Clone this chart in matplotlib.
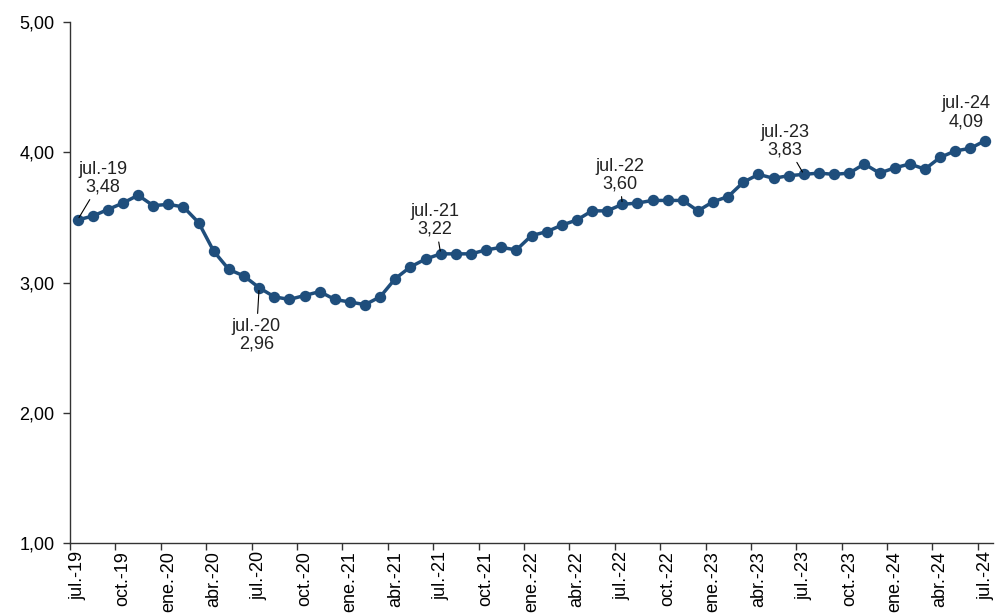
import numpy as np
import matplotlib
matplotlib.use("Agg")
import matplotlib.pyplot as plt

plt.rcParams['font.family'] = ['Liberation Sans', 'DejaVu Sans']

# monthly series, jul-19 .. jul-24
months = ["jul.-19", "ago.-19", "sep.-19", "oct.-19", "nov.-19", "dic.-19",
          "ene.-20", "feb.-20", "mar.-20", "abr.-20", "may.-20", "jun.-20",
          "jul.-20", "ago.-20", "sep.-20", "oct.-20", "nov.-20", "dic.-20",
          "ene.-21", "feb.-21", "mar.-21", "abr.-21", "may.-21", "jun.-21",
          "jul.-21", "ago.-21", "sep.-21", "oct.-21", "nov.-21", "dic.-21",
          "ene.-22", "feb.-22", "mar.-22", "abr.-22", "may.-22", "jun.-22",
          "jul.-22", "ago.-22", "sep.-22", "oct.-22", "nov.-22", "dic.-22",
          "ene.-23", "feb.-23", "mar.-23", "abr.-23", "may.-23", "jun.-23",
          "jul.-23", "ago.-23", "sep.-23", "oct.-23", "nov.-23", "dic.-23",
          "ene.-24", "feb.-24", "mar.-24", "abr.-24", "may.-24", "jun.-24",
          "jul.-24"]
values = [3.48, 3.51, 3.56, 3.61, 3.67, 3.59,
          3.60, 3.58, 3.46, 3.24, 3.10, 3.05,
          2.96, 2.89, 2.87, 2.90, 2.93, 2.87,
          2.85, 2.83, 2.89, 3.03, 3.12, 3.18,
          3.22, 3.22, 3.22, 3.25, 3.27, 3.25,
          3.36, 3.39, 3.44, 3.48, 3.55, 3.55,
          3.60, 3.61, 3.63, 3.63, 3.63, 3.55,
          3.62, 3.66, 3.77, 3.83, 3.80, 3.82,
          3.83, 3.84, 3.83, 3.84, 3.91, 3.84,
          3.88, 3.91, 3.87, 3.96, 4.01, 4.03,
          4.09]

# labelled points: index, text offset (points)
label_idx = [0, 12, 24, 36, 48, 60]
label_off = [(18, 30), (-2, -34), (-4, 24), (-2, 21), (-14, 24), (-14, 20)]
label_line = [True, True, True, True, True, False]

color = "#1F4E7C"

fig = plt.figure(figsize=(9.97, 6.14), dpi=100)
ax = fig.add_axes([0.0702, 0.1156, 0.9258, 0.8486])

x = np.arange(len(values))
ax.plot(x, values, color=color, lw=2.5, marker='o', ms=7.2, zorder=3)

for i, off, ln in zip(label_idx, label_off, label_line):
    txt = months[i] + "\n" + f"{values[i]:.2f}".replace(".", ",")
    ax.annotate(txt, xy=(x[i], values[i]), xytext=off, textcoords='offset points',
                ha='center', va='center', fontsize=13, color='#222222', linespacing=1.05,
                arrowprops=dict(arrowstyle='-', color='black', lw=0.8,
                                shrinkA=1, shrinkB=2) if ln else None)

ax.set_xlim(-0.5, len(values) - 0.5)
ax.set_ylim(1, 5)
ax.set_yticks([1, 2, 3, 4, 5])
ax.set_yticklabels([f"{v:.2f}".replace(".", ",") for v in [1, 2, 3, 4, 5]], fontsize=13)

# tick marks at category boundaries, labels at category centres
ax.set_xticks(np.arange(-0.5, len(values), 3))
ax.set_xticklabels([])
ax.set_xticks(np.arange(0, len(values), 3), minor=True)
ax.set_xticklabels(months[::3], minor=True, rotation=90, fontsize=13)
ax.tick_params(axis='x', which='minor', length=0, pad=6)
ax.tick_params(axis='x', which='major', length=5, width=1, color='#333333')
ax.tick_params(axis='y', length=5, width=1, color='#333333', pad=6)

for s in ['top', 'right']:
    ax.spines[s].set_visible(False)
for s in ['left', 'bottom']:
    ax.spines[s].set_color('#333333')
    ax.spines[s].set_linewidth(1)

fig.savefig("out.png", dpi=100)
